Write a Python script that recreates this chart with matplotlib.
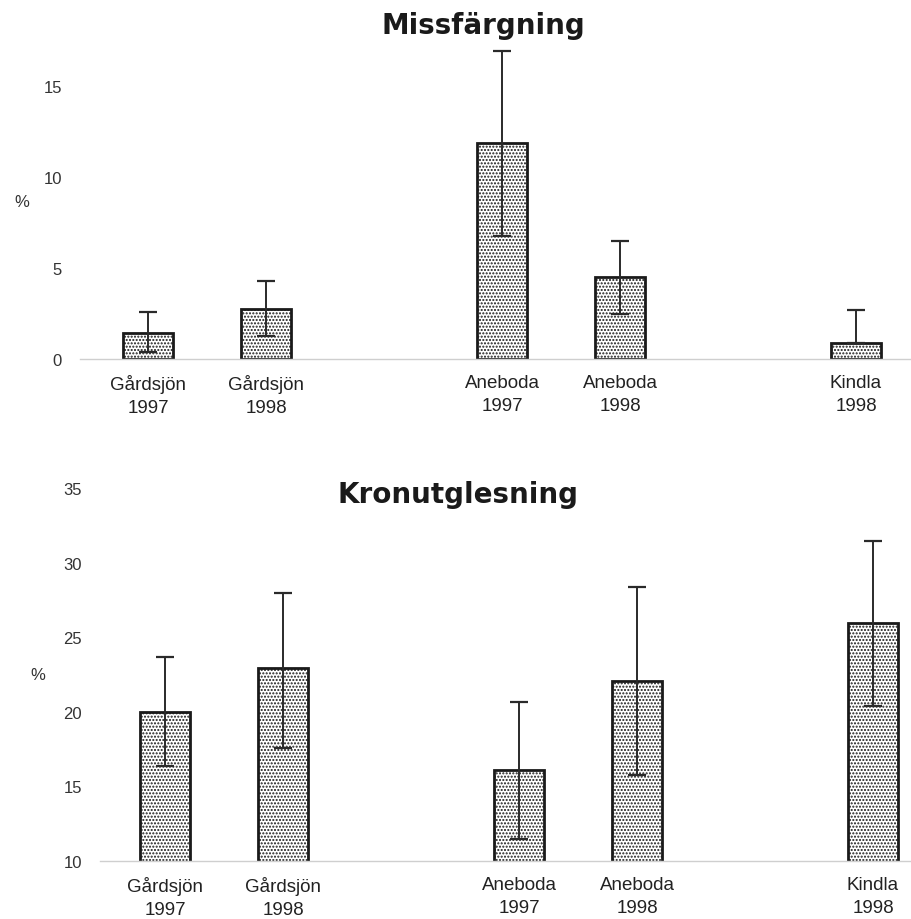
import matplotlib
matplotlib.use('Agg')
import matplotlib.pyplot as plt
import numpy as np

# ---- data ----
categories = ["Gårdsjön\n1997", "Gårdsjön\n1998", "Aneboda\n1997", "Aneboda\n1998", "Kindla\n1998"]

miss_values = [1.43, 2.75, 11.85, 4.5, 0.87]
miss_err_low = [1.03, 1.48, 5.08, 2.05, 0.0]
miss_err_high = [1.15, 1.55, 5.05, 1.97, 1.83]
miss_ticks = [0, 5, 10, 15]

kron_values = [20.0, 22.95, 16.1, 22.1, 26.0]
kron_err_low = [3.6, 5.35, 4.6, 6.3, 5.6]
kron_err_high = [3.7, 5.05, 4.6, 6.3, 5.5]
kron_ticks = [10, 15, 20, 25, 30, 35]

titles = ["Missfärgning", "Kronutglesning"]

# ---- layout ----
slots = [0, 1, 3, 4, 6]
W, H = 912, 920
plt.rcParams['font.family'] = ['Liberation Sans', 'DejaVu Sans']
plt.rcParams['hatch.linewidth'] = 1.0

fig = plt.figure(figsize=(W / 100, H / 100), dpi=100)

def px_axes(left, right, bottom_px, top_px):
    return fig.add_axes([left / W, 1 - bottom_px / H, (right - left) / W, (bottom_px - top_px) / H])

def draw(ax, values, lo, hi, ticks, ylim, xlim, ylabel_pos):
    ax.bar(slots, values, width=0.42, facecolor='white', edgecolor='#1a1a1a',
           linewidth=2.0, hatch='.....', zorder=2)
    ax.errorbar(slots, values, yerr=[lo, hi], fmt='none', ecolor='#2a2a2a',
                elinewidth=1.4, capsize=6.5, capthick=1.6, zorder=3)
    ax.set_ylim(*ylim)
    ax.set_xlim(*xlim)
    ax.set_yticks(ticks)
    ax.set_yticklabels([str(t) for t in ticks])
    ax.set_xticks(slots)
    ax.set_xticklabels(categories, linespacing=1.45)
    ax.tick_params(axis='both', length=0)
    ax.tick_params(axis='y', labelsize=12, pad=13, labelcolor='#333333')
    ax.tick_params(axis='x', labelsize=13.5, pad=11, labelcolor='#222222')
    for s in ['top', 'right', 'left']:
        ax.spines[s].set_visible(False)
    ax.spines['bottom'].set_color('#cfcfcf')
    ax.spines['bottom'].set_linewidth(1.0)
    ax.set_ylabel('%', rotation=0, fontsize=12, color='#333333')
    ax.yaxis.set_label_coords(*ylabel_pos)

ax1 = px_axes(80, 910, 360, 360 - 17.5 * 18.2)
draw(ax1, miss_values, miss_err_low, miss_err_high, miss_ticks, (0, 17.5),
     ((80 - 148) / 118, (910 - 148) / 118), (-0.07, 0.47))

ax2 = px_axes(100, 910, 862, 862 - 25 * 14.9)
draw(ax2, kron_values, kron_err_low, kron_err_high, kron_ticks, (10, 35),
     ((100 - 165) / 118, (910 - 165) / 118), (-0.077, 0.48))

fig.text(483 / W, 1 - 26 / H, titles[0], ha='center', va='center',
         fontsize=20, fontweight='bold', color='#1a1a1a', family=['DejaVu Sans'])
fig.text(458 / W, 1 - 495 / H, titles[1], ha='center', va='center',
         fontsize=20, fontweight='bold', color='#1a1a1a', family=['DejaVu Sans'])

fig.savefig('out.png', dpi=100, facecolor='white')
